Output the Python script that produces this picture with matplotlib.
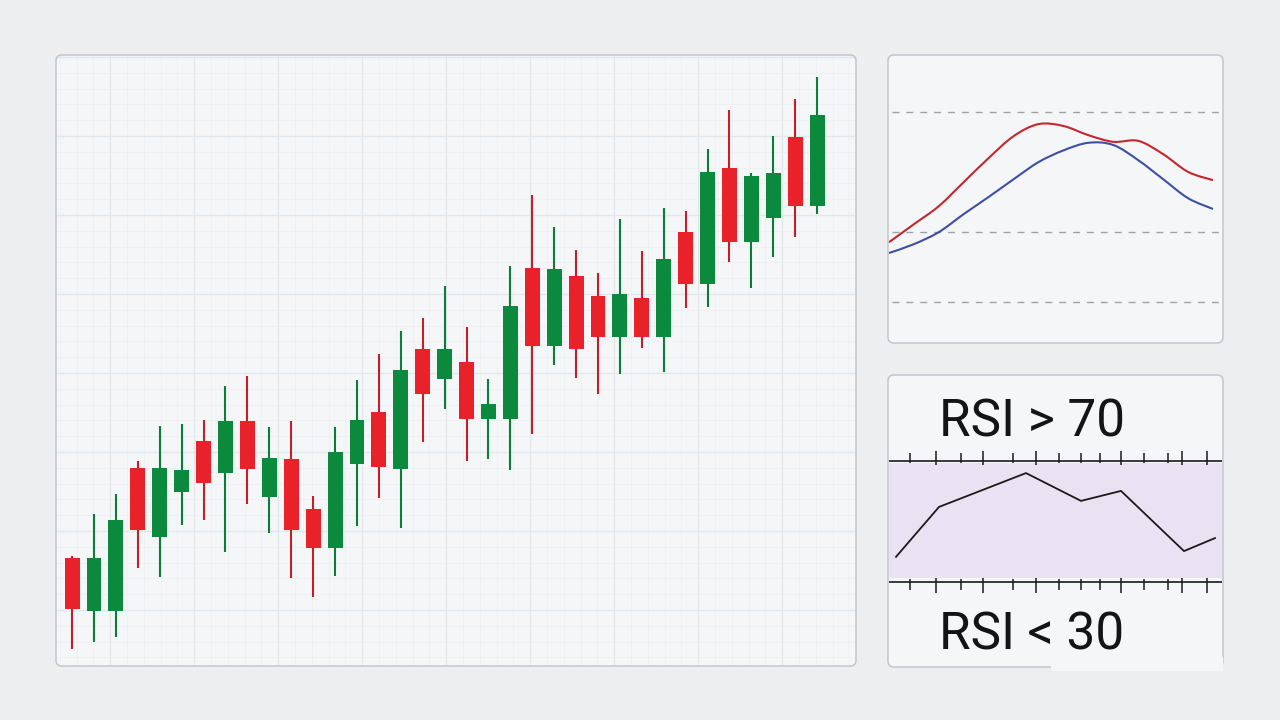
import numpy as np
import matplotlib
matplotlib.use("Agg")
import matplotlib.pyplot as plt
from matplotlib.patches import FancyBboxPatch, Rectangle, PathPatch
from matplotlib.path import Path
from matplotlib.ticker import MultipleLocator

# ---------------- data ----------------
opens = [109.1, 103.8, 103.8, 118.1, 111.2, 115.7, 120.8, 117.6, 122.8, 115.2,
         119.0, 114.0, 110.1, 118.5, 123.7, 118.0, 130.0, 127.0, 128.7, 123.0,
         123.0, 138.1, 130.3, 137.3, 135.3, 131.2, 135.1, 131.2, 141.7, 136.5,
         148.1, 140.7, 143.1, 151.2, 144.3]
closes = [104.0, 109.1, 112.9, 111.9, 118.1, 117.9, 116.6, 122.8, 118.0, 119.1,
          111.9, 110.1, 119.7, 122.9, 118.2, 127.9, 125.5, 130.0, 123.0, 124.5,
          134.3, 130.3, 138.0, 130.0, 131.2, 135.5, 131.2, 139.0, 136.5, 147.7,
          140.7, 147.3, 147.6, 144.3, 153.4]
highs = [109.3, 113.5, 115.5, 118.8, 122.3, 122.5, 122.9, 126.3, 127.3, 122.2,
         122.8, 115.3, 122.2, 126.9, 129.5, 131.8, 133.1, 136.3, 132.2, 127.0,
         138.3, 145.4, 142.2, 139.9, 137.6, 143.0, 139.8, 144.1, 143.8, 150.0,
         153.9, 147.6, 151.3, 155.0, 157.2]
lows = [100.0, 100.7, 101.2, 108.1, 107.2, 112.4, 112.9, 109.7, 114.5, 111.6,
        107.1, 105.2, 107.3, 112.3, 115.1, 112.1, 120.7, 124.0, 118.8, 119.0,
        117.9, 121.5, 128.4, 127.1, 125.5, 127.5, 130.1, 127.7, 134.1, 134.2,
        138.7, 136.1, 139.2, 141.2, 143.5]

osc_fast = [38.9, 44.6, 50.3, 57.9, 65.5, 72.4, 76.2, 75.6, 72.7, 70.6,
            70.9, 66.7, 61.1, 58.5]
osc_slow = [35.5, 38.3, 42.1, 47.8, 53.2, 58.8, 64.2, 67.9, 70.3, 69.6,
            64.8, 58.8, 52.8, 49.4]
osc_levels = [80, 42, 20]

rsi_x = [0.7, 5.0, 13.7, 19.2, 23.2, 29.5, 32.6]
rsi_y = [38.3, 54.8, 66.0, 56.8, 60.1, 40.2, 44.5]
rsi_upper, rsi_lower = 70, 30
rsi_tick_x = [2.1, 4.7, 7.2, 9.4, 12.4, 14.7, 17.0, 19.2, 21.1, 23.2, 25.5, 27.9, 29.3, 31.8]
rsi_tick_tall = [0, 1, 0, 1, 0, 1, 0, 0, 0, 1, 0, 0, 1, 1]
label_upper = "RSI > 70"
label_lower = "RSI < 30"

# ---------------- style ----------------
W, H = 1280, 720
BG = "#eceef0"
PANEL = "#f4f6f8"
BORDER = "#c3c7cb"
RED = "#e8212b"
RED_WICK = "#c41f28"
GREEN = "#0b8a3e"
GREEN_WICK = "#0a7d38"

fig = plt.figure(figsize=(W / 100, H / 100), dpi=100, facecolor=BG)


def rect(x0, y0, x1, y1):
    return [x0 / W, 1 - y1 / H, (x1 - x0) / W, (y1 - y0) / H]


def panel(x0, y0, x1, y1):
    kw = dict(boxstyle="round,pad=0,rounding_size=0.06", transform=fig.dpi_scale_trans)
    fill = FancyBboxPatch((x0 / 100, (H - y1) / 100), (x1 - x0) / 100, (y1 - y0) / 100,
                          facecolor=PANEL, edgecolor="none", zorder=-5, **kw)
    edge = FancyBboxPatch((x0 / 100, (H - y1) / 100), (x1 - x0) / 100, (y1 - y0) / 100,
                          facecolor="none", edgecolor=BORDER, linewidth=1.1, zorder=5, **kw)
    fig.add_artist(fill)
    fig.add_artist(edge)


def clean(ax):
    ax.set_facecolor("none")
    for s in ax.spines.values():
        s.set_visible(False)
    ax.tick_params(which="both", length=0, labelbottom=False, labelleft=False)


def smooth_line(ax, xs, ys, **kw):
    """Draw a smooth Bezier curve passing through the given points."""
    xs = np.asarray(xs, float)
    ys = np.asarray(ys, float)
    pts = np.column_stack([xs, ys])
    n = len(pts)
    verts = [pts[0]]
    codes = [Path.MOVETO]
    for i in range(n - 1):
        p0 = pts[i - 1] if i > 0 else pts[i]
        p1 = pts[i]
        p2 = pts[i + 1]
        p3 = pts[i + 2] if i + 2 < n else pts[i + 1]
        c1 = p1 + (p2 - p0) / 6.0
        c2 = p2 - (p3 - p1) / 6.0
        verts += [c1, c2, p2]
        codes += [Path.CURVE4] * 3
    ax.add_patch(PathPatch(Path(verts, codes), facecolor="none", **kw))


# ---------------- main candlestick panel ----------------
panel(56, 55, 856, 666)
ax = fig.add_axes(rect(57, 56, 855, 665))
clean(ax)
ax.set_xlim(-0.69, 35.73)
ax.set_ylim(98.4, 159.3)
ax.set_axisbelow(True)
ax.xaxis.set_major_locator(MultipleLocator(3.834, offset=1.734))
ax.xaxis.set_minor_locator(MultipleLocator(3.834 / 5, offset=1.734))
ax.yaxis.set_major_locator(MultipleLocator(7.9, offset=1.2))
ax.yaxis.set_minor_locator(MultipleLocator(7.9 / 5, offset=1.2))
ax.grid(which="major", color="#e3e7ea", linewidth=0.9)
ax.grid(which="minor", color="#eceff1", linewidth=0.5)

x = np.arange(len(opens))
for i in x:
    o, c, h, l = opens[i], closes[i], highs[i], lows[i]
    up = c >= o
    ax.vlines(i, l, h, color=GREEN_WICK if up else RED_WICK, linewidth=1.5, zorder=2)
    ax.bar(i, abs(c - o), bottom=min(o, c), width=0.68,
           color=GREEN if up else RED, zorder=3)

# ---------------- oscillator panel ----------------
panel(888, 55, 1223, 343)
ax2 = fig.add_axes(rect(889, 56, 1222, 342))
clean(ax2)
ax2.set_xlim(0, 13.36)
ax2.set_ylim(7.4, 97.7)
for lv in osc_levels:
    ax2.axhline(lv, xmin=0.01, xmax=0.995, color="#a0a3a6", linewidth=1.0,
                linestyle=(0, (5, 5)), zorder=1)
xo = np.arange(len(osc_fast))
smooth_line(ax2, xo, osc_slow, edgecolor="#3d4fa5", linewidth=1.5, zorder=3)
smooth_line(ax2, xo, osc_fast, edgecolor="#c4262d", linewidth=1.5, zorder=4)

# ---------------- RSI panel ----------------
panel(888, 375, 1223, 667)
ax3 = fig.add_axes(rect(889, 376, 1222, 666))
clean(ax3)
ax3.set_xlim(0, 33.3)
ax3.set_ylim(2.2, 98.1)
ax3.axhspan(31.3, 69.3, color="#e9e2f2", linewidth=0, zorder=0.5)
ax3.axhline(rsi_upper, color="#1a1a1a", linewidth=1.2, zorder=2)
ax3.axhline(rsi_lower, color="#1a1a1a", linewidth=1.2, zorder=2)
for tx, tall in zip(rsi_tick_x, rsi_tick_tall):
    if tall:
        ax3.vlines(tx, 68.7, 73.4, color="#1a1a1a", linewidth=1.1, zorder=2)
        ax3.vlines(tx, 26.2, 31.3, color="#1a1a1a", linewidth=1.1, zorder=2)
    else:
        ax3.vlines(tx, 69.2, 72.5, color="#1a1a1a", linewidth=1.1, zorder=2)
        ax3.vlines(tx, 27.3, 31.0, color="#1a1a1a", linewidth=1.1, zorder=2)
ax3.plot(rsi_x, rsi_y, color="#1a1a1a", linewidth=1.3, zorder=3)
ax3.text(5.0, 78.2, label_upper, fontsize=37, family=["Roboto", "DejaVu Sans"],
         color="#141414", va="baseline", ha="left", zorder=4)
ax3.text(5.0, 7.8, label_lower, fontsize=37, family=["Roboto", "DejaVu Sans"],
         color="#141414", va="baseline", ha="left", zorder=4)

# the reference panel has no bottom border on its right part
fig.add_artist(Rectangle((1051 / 100, (H - 671) / 100), 171.5 / 100, 14 / 100,
                         transform=fig.dpi_scale_trans, facecolor=PANEL,
                         edgecolor="none", zorder=6))

fig.savefig("out.png", dpi=100, facecolor=BG)
